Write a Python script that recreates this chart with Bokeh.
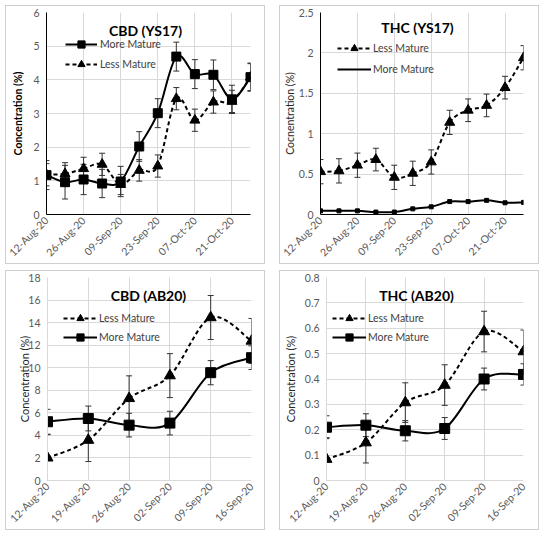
import math
from datetime import datetime
from bokeh.plotting import figure
from bokeh.models import (Range1d, FixedTicker, DatetimeTickFormatter, Whisker, TeeHead,
                          ColumnDataSource, Label, Legend, LegendItem)
from bokeh.layouts import row, column
from bokeh.embed import file_html
from bokeh.resources import INLINE

# ---------------- data ----------------
ys17_dates = ["2020-08-12", "2020-08-19", "2020-08-26", "2020-09-02", "2020-09-09", "2020-09-16",
              "2020-09-23", "2020-09-30", "2020-10-07", "2020-10-14", "2020-10-21", "2020-10-28"]
ys17_ticks = ["2020-08-12", "2020-08-26", "2020-09-09", "2020-09-23", "2020-10-07", "2020-10-21"]

cbd_ys17_more = [1.17, 0.96, 1.04, 0.92, 0.98, 2.02, 3.01, 4.69, 4.17, 4.15, 3.42, 4.08]
cbd_ys17_more_err = [0.43, 0.50, 0.45, 0.42, 0.45, 0.44, 0.43, 0.43, 0.43, 0.44, 0.42, 0.42]
cbd_ys17_less = [1.18, 1.21, 1.36, 1.49, 0.89, 1.31, 1.44, 3.44, 2.80, 3.34, 3.36, 4.08]
cbd_ys17_less_err = [0.33, 0.33, 0.34, 0.33, 0.30, 0.32, 0.33, 0.33, 0.33, 0.33, 0.33, 0.40]

thc_ys17_less = [0.53, 0.54, 0.61, 0.68, 0.46, 0.51, 0.65, 1.14, 1.29, 1.35, 1.57, 1.94]
thc_ys17_less_err = [0.15, 0.15, 0.15, 0.14, 0.15, 0.15, 0.15, 0.15, 0.14, 0.14, 0.14, 0.15]
thc_ys17_more = [0.045, 0.045, 0.045, 0.03, 0.03, 0.07, 0.095, 0.16, 0.16, 0.175, 0.145, 0.15]

ab20_dates = ["2020-08-12", "2020-08-19", "2020-08-26", "2020-09-02", "2020-09-09", "2020-09-16"]

cbd_ab20_less = [2.01, 3.58, 7.28, 9.30, 14.45, 12.37]
cbd_ab20_less_err = [2.05, 1.90, 2.00, 1.95, 1.95, 2.00]
cbd_ab20_more = [5.21, 5.50, 4.91, 5.09, 9.56, 10.89]
cbd_ab20_more_err = [1.10, 1.10, 1.05, 1.05, 1.07, 1.05]

thc_ab20_less = [0.084, 0.149, 0.307, 0.376, 0.587, 0.508]
thc_ab20_less_err = [0.085, 0.080, 0.078, 0.080, 0.080, 0.085]
thc_ab20_more = [0.210, 0.218, 0.196, 0.205, 0.400, 0.418]
thc_ab20_more_err = [0.045, 0.045, 0.040, 0.043, 0.043, 0.042]

yticks_cbd_ys17 = [0, 1, 2, 3, 4, 5, 6]
ylabels_cbd_ys17 = ["0", "1", "2", "3", "4", "5", "6"]
yticks_thc_ys17 = [0, 0.5, 1, 1.5, 2, 2.5]
ylabels_thc_ys17 = ["0", "0.5", "1", "1.5", "2", "2.5"]
yticks_cbd_ab20 = [0, 2, 4, 6, 8, 10, 12, 14, 16, 18]
ylabels_cbd_ab20 = ["0", "2", "4", "6", "8", "10", "12", "14", "16", "18"]
yticks_thc_ab20 = [0, 0.1, 0.2, 0.3, 0.4, 0.5, 0.6, 0.7, 0.8]
ylabels_thc_ab20 = ["0", "0.1", "0.2", "0.3", "0.4", "0.5", "0.6", "0.7", "0.8"]

FONT = "Lato"
EPOCH = datetime(1970, 1, 1)


def ms(s):
    return (datetime.strptime(s, "%Y-%m-%d") - EPOCH).total_seconds() * 1000.0


def smooth_source(xs, ys):
    """Excel-like smoothed line: Catmull-Rom segments drawn as cubic Bezier curves."""
    n = len(xs)
    d = dict(x0=[], y0=[], x1=[], y1=[], cx0=[], cy0=[], cx1=[], cy1=[])
    for i in range(n - 1):
        a = max(i - 1, 0)
        b = min(i + 2, n - 1)
        d["x0"].append(xs[i]); d["y0"].append(ys[i])
        d["x1"].append(xs[i + 1]); d["y1"].append(ys[i + 1])
        d["cx0"].append(xs[i] + (xs[i + 1] - xs[a]) / 6.0)
        d["cy0"].append(ys[i] + (ys[i + 1] - ys[a]) / 6.0)
        d["cx1"].append(xs[i + 1] - (xs[b] - xs[i]) / 6.0)
        d["cy1"].append(ys[i + 1] - (ys[b] - ys[i]) / 6.0)
    return ColumnDataSource(d)


def series(p, xs, ys, err, dashed, marker, msize, err_color="#333333"):
    if err is not None:
        src = ColumnDataSource(dict(x=xs, upper=[v + e for v, e in zip(ys, err)],
                                    lower=[v - e for v, e in zip(ys, err)]))
        w = Whisker(source=src, base="x", upper="upper", lower="lower",
                    line_color=err_color, line_width=1,
                    upper_head=TeeHead(size=6, line_color=err_color, line_width=1),
                    lower_head=TeeHead(size=6, line_color=err_color, line_width=1))
        p.add_layout(w)
    line_r = p.bezier(x0="x0", y0="y0", x1="x1", y1="y1", cx0="cx0", cy0="cy0",
                      cx1="cx1", cy1="cy1", source=smooth_source(xs, ys),
                      line_color="black", line_width=2,
                      line_dash="4 3" if dashed else "solid")
    mk = p.scatter(xs, ys, marker=marker, size=msize, fill_color="black", line_color="black")
    return line_r, mk


def make_panel(w, h, borders, xdates, xtick_dates, yr, yticks, ylabels, ylabel, ylabel_bold,
               ylabel_size, ylabel_standoff, axis_color, title, title_pos):
    left, right, top, bottom = borders
    p = figure(width=w, height=h, x_axis_type="datetime", output_backend="svg",
               toolbar_location=None, min_border_left=left, min_border_right=right,
               min_border_top=top, min_border_bottom=bottom)
    xs = [ms(d) for d in xdates]
    p.x_range = Range1d(xs[0], xs[-1])
    p.y_range = Range1d(yr[0], yr[1])
    p.outline_line_color = None
    p.background_fill_color = "white"
    p.border_fill_color = "white"

    xt = [ms(d) for d in xtick_dates]
    p.xaxis.ticker = FixedTicker(ticks=xt)
    fmt = "%d-%b-%y"
    p.xaxis.formatter = DatetimeTickFormatter(milliseconds=fmt, seconds=fmt, minsec=fmt,
                                              minutes=fmt, hourmin=fmt, hours=fmt, days=fmt,
                                              months=fmt, years=fmt)
    p.xaxis.major_label_orientation = math.pi / 4
    p.xaxis.axis_label = None
    p.xgrid.ticker = FixedTicker(ticks=xt + [xs[-1]])
    p.yaxis.ticker = FixedTicker(ticks=yticks)
    p.yaxis.major_label_overrides = {t: l for t, l in zip(yticks, ylabels)}
    p.ygrid.ticker = FixedTicker(ticks=yticks)

    for ax in (p.xaxis, p.yaxis):
        ax.axis_line_color = axis_color
        ax.axis_line_width = 1
        ax.major_tick_line_color = None
        ax.minor_tick_line_color = None
        ax.major_tick_out = 0
        ax.major_tick_in = 0
        ax.minor_tick_out = 0
        ax.minor_tick_in = 0
        ax.major_label_text_font = FONT
        ax.major_label_text_font_size = "10.5px"
        ax.major_label_text_color = "#595959"
    p.xaxis.major_label_standoff = 4
    p.yaxis.major_label_standoff = 7
    for g in (p.xgrid, p.ygrid):
        g.grid_line_color = "#d9d9d9"
        g.grid_line_width = 1

    p.yaxis.axis_label = ylabel
    p.yaxis.axis_label_text_font = FONT
    p.yaxis.axis_label_text_font_size = ylabel_size
    p.yaxis.axis_label_text_font_style = "bold" if ylabel_bold else "normal"
    p.yaxis.axis_label_text_color = "#000000" if ylabel_bold else "#262626"
    p.yaxis.axis_label_standoff = ylabel_standoff

    p.add_layout(Label(x=title_pos[0], y=title_pos[1], x_units="screen", y_units="screen",
                       text=title, text_align="center", text_baseline="middle",
                       text_font=FONT, text_font_style="bold", text_font_size="14px",
                       text_color="black"))
    p.styles = {"border": "1px solid #cfcfcf"}
    return p, xs


def add_legend(p, items, loc, spacing, gw, standoff):
    leg = Legend(items=[LegendItem(label=l, renderers=list(r)) for l, r in items],
                 location=loc, orientation="vertical", background_fill_alpha=0,
                 border_line_color=None, padding=0, margin=0, spacing=spacing,
                 glyph_width=gw, glyph_height=18, label_height=18, label_standoff=standoff,
                 label_text_font=FONT, label_text_font_size="10.5px",
                 label_text_color="#404040")
    p.add_layout(leg)


# ---------------- panel 1: CBD (YS17) ----------------
p1, x1 = make_panel(260, 259, (40, 16, 6, 51), ys17_dates, ys17_ticks, (0, 6),
                    yticks_cbd_ys17, ylabels_cbd_ys17, "Concentration (%)", True, "10.5px", 6,
                    "black", "CBD (YS17)", (99, 184))
lm1 = series(p1, x1, cbd_ys17_less, cbd_ys17_less_err, True, "triangle", 10)
mm1 = series(p1, x1, cbd_ys17_more, cbd_ys17_more_err, False, "square", 9)
add_legend(p1, [("More Mature", mm1), ("Less Mature", lm1)], (19, 141), 2, 32, 3)

# ---------------- panel 2: THC (YS17) ----------------
p2, x2 = make_panel(260, 259, (39, 17, 6, 51), ys17_dates, ys17_ticks, (0, 2.5),
                    yticks_thc_ys17, ylabels_thc_ys17, "Cocnentration (%)", False, "10.5px", 0,
                    "black", "THC (YS17)", (97, 187))
lm2 = series(p2, x2, thc_ys17_less, thc_ys17_less_err, True, "triangle", 10)
mm2 = series(p2, x2, thc_ys17_more, None, False, "square", 4)
add_legend(p2, [("Less Mature", lm2), ("More Mature", mm2[:1])], (17, 136), 3, 34, 2)

# ---------------- panel 3: CBD (AB20) ----------------
p3, x3 = make_panel(260, 260, (41, 15, 6, 51), ab20_dates, ab20_dates, (0, 18),
                    yticks_cbd_ab20, ylabels_cbd_ab20, "Concentration (%)", False, "11px", -6,
                    "#d9d9d9", "CBD (AB20)", (101, 185))
lm3 = series(p3, x3, cbd_ab20_less, cbd_ab20_less_err, True, "triangle", 11)
mm3 = series(p3, x3, cbd_ab20_more, cbd_ab20_more_err, False, "square", 10)
add_legend(p3, [("Less Mature", lm3), ("More Mature", mm3)], (16, 134), 1, 34, 2)

# ---------------- panel 4: THC (AB20) ----------------
p4, x4 = make_panel(260, 260, (45, 17, 6, 51), ab20_dates, ab20_dates, (0, 0.8),
                    yticks_thc_ab20, ylabels_thc_ab20, "Concentration (%)", False, "11px", 5,
                    "#d9d9d9", "THC (AB20)", (90, 185))
lm4 = series(p4, x4, thc_ab20_less, thc_ab20_less_err, True, "triangle", 11)
mm4 = series(p4, x4, thc_ab20_more, thc_ab20_more_err, False, "square", 10)
add_legend(p4, [("Less Mature", lm4), ("More Mature", mm4)], (6, 134), 1, 34, 2)

layout = column(row(p1, p2, spacing=14), row(p3, p4, spacing=14), spacing=6)
layout.margin = (5, 0, 0, 5)

with open("out.html", "w") as f:
    f.write(file_html(layout, INLINE))
